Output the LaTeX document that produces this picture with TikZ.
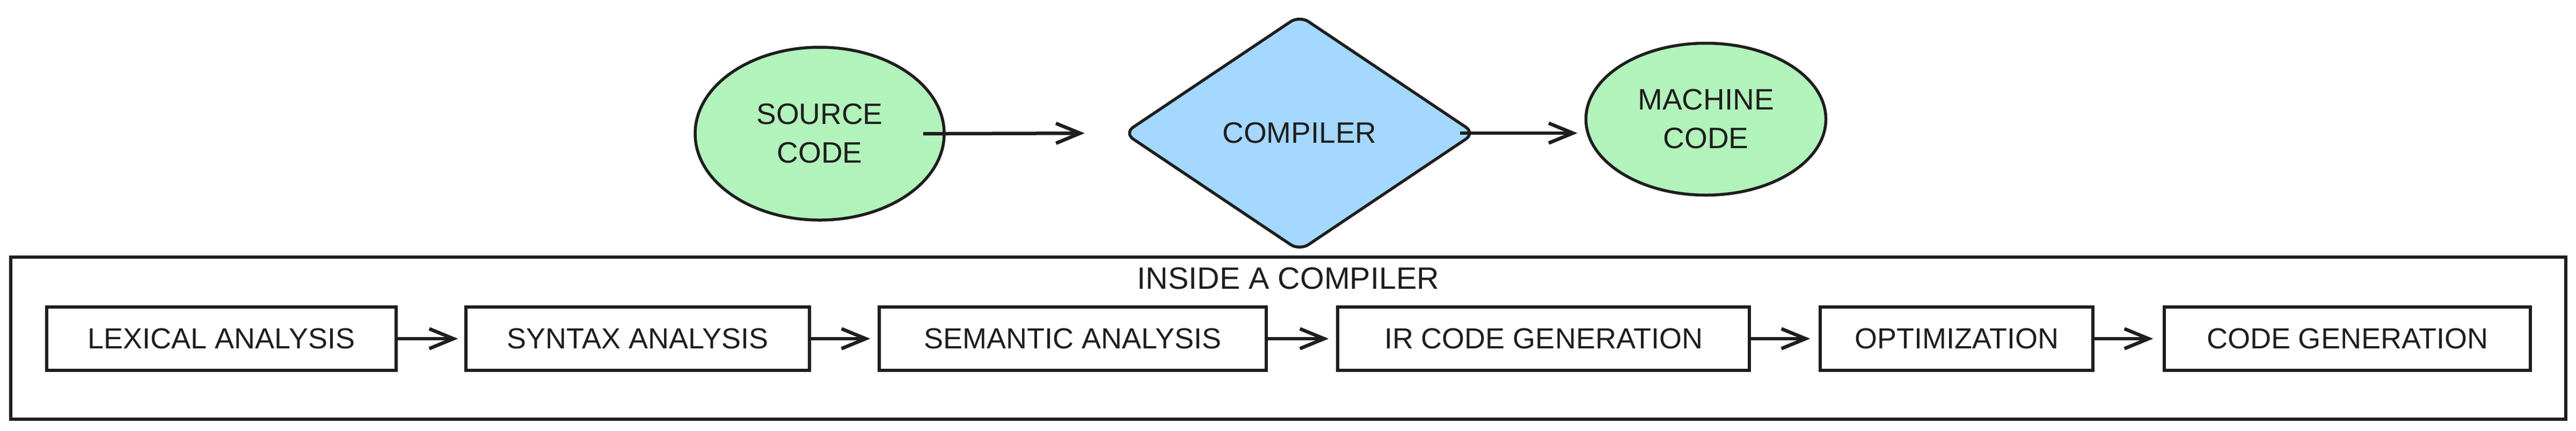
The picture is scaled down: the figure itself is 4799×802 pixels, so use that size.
\documentclass[tikz,border=0pt]{standalone}
\usepackage{fontspec}
\setmainfont{Liberation Sans}
\usetikzlibrary{shapes.geometric,arrows.meta}
\definecolor{ink}{HTML}{1E1E1E}
\definecolor{greenfill}{HTML}{B2F2BB}
\definecolor{bluefill}{HTML}{A5D8FF}
\begin{document}
\begin{tikzpicture}[x=0.2pt,y=-0.2pt,
  every node/.style={text=ink, inner sep=0pt},
  outline/.style={draw=ink, line width=1.1pt},
  blob/.style={outline, ellipse, fill=greenfill, align=center, font=\fontsize{11}{14.4}\selectfont},
  decision/.style={outline, diamond, fill=bluefill, rounded corners=4pt, font=\fontsize{11}{13}\selectfont},
  stage/.style={outline, rectangle, minimum height=23.6pt, font=\fontsize{10.8}{12}\selectfont},
  container/.style={outline, rectangle},
  caption/.style={font=\fontsize{11.5}{13}\selectfont},
  flow/.style={draw=ink, line width=1.3pt, -{Straight Barb[length=9pt,width=7.4pt,line width=1.3pt]}},
]
\useasboundingbox (0,0) rectangle (4799,802);

% top row
\node[blob, minimum width=92.8pt, minimum height=64.4pt] (src) at (1527,249) {SOURCE\\CODE};
\node[decision, minimum width=131pt, minimum height=88pt] (comp) at (2421,248) {COMPILER};
\node[blob, minimum width=89.4pt, minimum height=56.6pt] (mach) at (3178,222) {MACHINE\\CODE};

\draw[flow, shorten <=-8.4pt, shorten >=14pt] (src.east) -- (comp.west);
\draw[flow, shorten <=-6.2pt, shorten >=2.6pt] (comp.east) -- (comp.east -| mach.west);

% container
\node[container, minimum width=952pt, minimum height=60.4pt] (frame) at (2400,630) {};
\node[caption] (title) at (2400,519) {INSIDE A COMPILER};

% stages
\node[stage, minimum width=130.2pt] (lex) at (412.5,631) {LEXICAL ANALYSIS};
\node[stage, minimum width=128pt] (syn) at (1188,631) {SYNTAX ANALYSIS};
\node[stage, minimum width=144.2pt] (sem) at (1998.5,631) {SEMANTIC ANALYSIS};
\node[stage, minimum width=153.4pt] (ir) at (2875.5,631) {IR CODE GENERATION};
\node[stage, minimum width=101.6pt] (opt) at (3645,631) {OPTIMIZATION};
\node[stage, minimum width=136.4pt] (cg) at (4373,631) {CODE GENERATION};

\draw[flow, shorten >=2.4pt] (lex) -- (syn);
\draw[flow, shorten >=2.8pt] (syn) -- (sem);
\draw[flow, shorten >=2.8pt] (sem) -- (ir);
\draw[flow, shorten >=3.2pt] (ir) -- (opt);
\draw[flow, shorten >=3.6pt] (opt) -- (cg);
\end{tikzpicture}
\end{document}
